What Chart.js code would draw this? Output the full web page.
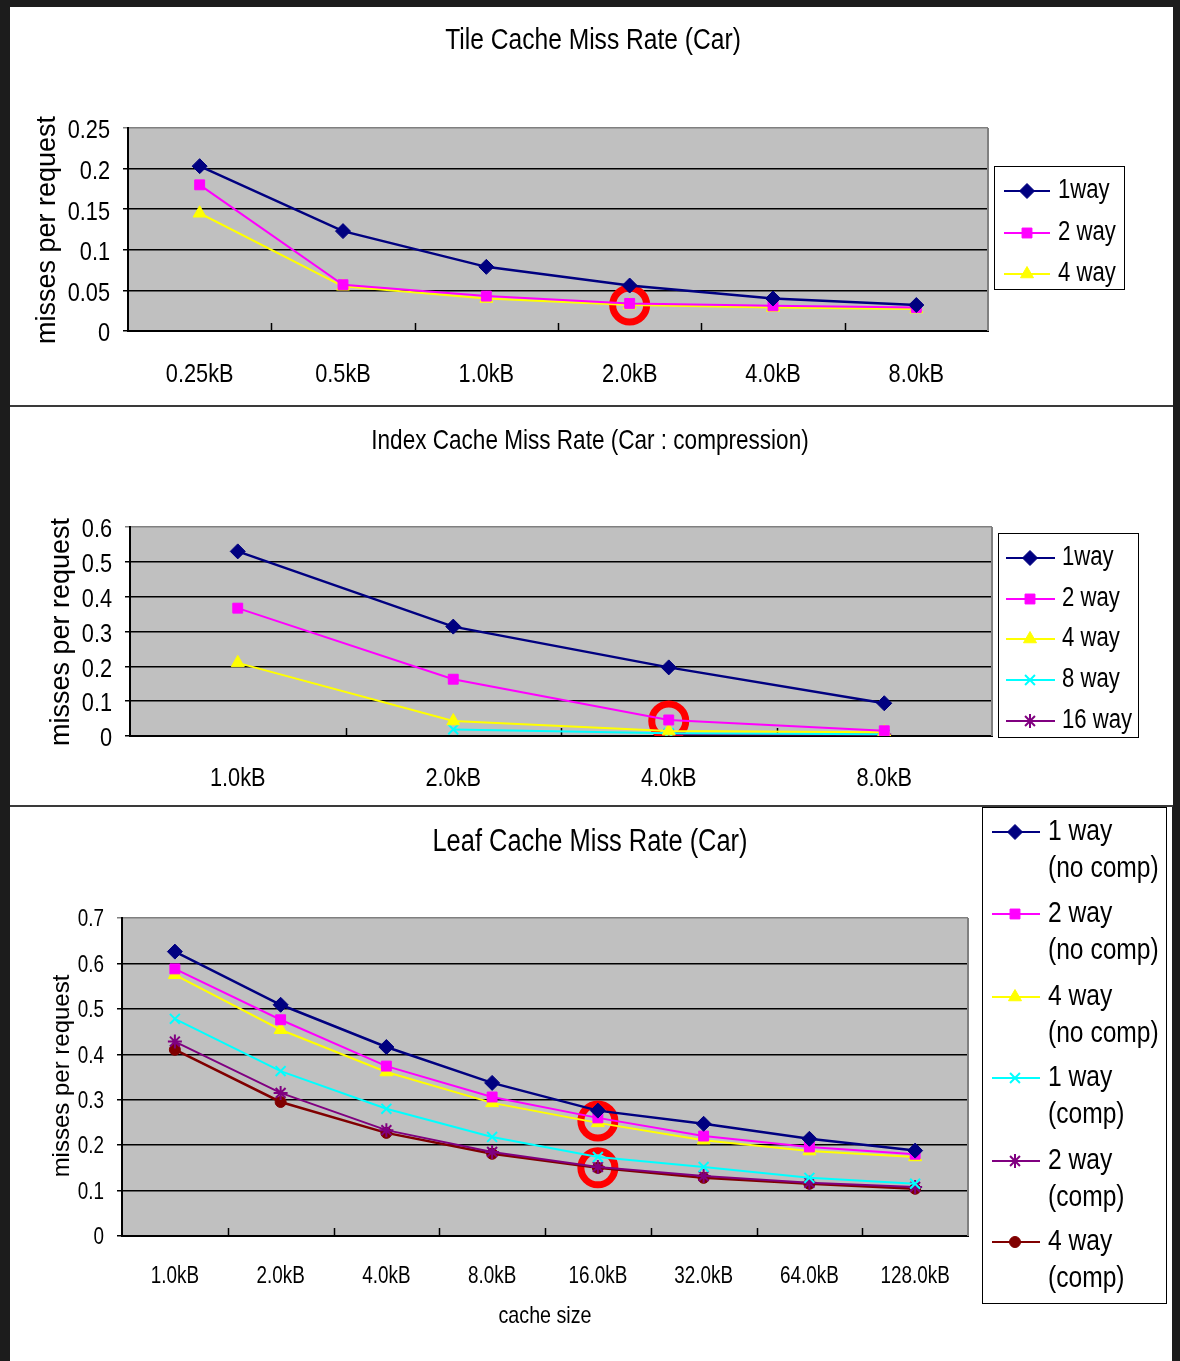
<!DOCTYPE html>
<html>
<head>
<meta charset="utf-8">
<script src="https://cdn.jsdelivr.net/npm/chart.js@4/dist/chart.umd.min.js"></script>
<style>
  html, body { margin: 0; padding: 0; background: #1c1c1c; }
  body { width: 1180px; height: 1361px; position: relative; overflow: hidden; }
  .panel { position: absolute; background: #fff; }
  .panel canvas { display: block; }
  .sep { position: absolute; left: 10px; height: 2px; background: #3a3a3a; }
</style>
</head>
<body>
<div class="panel" style="left:10px;top:7px;width:1163px;height:398px"><canvas id="tileChart" width="1163" height="398"></canvas></div>
<div class="sep" style="top:405px;width:1163px"></div>
<div class="panel" style="left:10px;top:407px;width:1163px;height:398px"><canvas id="indexChart" width="1163" height="398"></canvas></div>
<div class="sep" style="top:805px;width:1163px"></div>
<div class="panel" style="left:10px;top:807px;width:1162px;height:554px"><canvas id="leafChart" width="1162" height="554"></canvas></div>

<script>
const SANS = "'Liberation Sans', Arial, sans-serif";
const SQUEEZE = 0.82; // no narrow Arial here, so squeeze the regular one

// Tile cache
const tileSizes = ["0.25kB", "0.5kB", "1.0kB", "2.0kB", "4.0kB", "8.0kB"];
const tileOneWay = [0.203, 0.123, 0.079, 0.056, 0.040, 0.032];
const tileTwoWay = [0.180, 0.057, 0.043, 0.034, 0.031, 0.029];
const tileFourWay = [0.145, 0.055, 0.040, 0.032, 0.029, 0.027];
const tileMarked = [null, null, null, 0.032, null, null];
const tileYTicks = [0, 0.05, 0.1, 0.15, 0.2, 0.25];

// Index cache
const indexSizes = ["1.0kB", "2.0kB", "4.0kB", "8.0kB"];
const indexOneWay = [0.530, 0.314, 0.197, 0.094];
const indexTwoWay = [0.367, 0.163, 0.046, 0.015];
const indexFourWay = [0.210, 0.043, 0.014, 0.011];
const indexEightWay = [null, 0.019, 0.008, 0.005];
const indexSixteenWay = [null, null, 0.005, 0.004];
const indexMarked = [null, null, 0.043, null];
const indexYTicks = [0, 0.1, 0.2, 0.3, 0.4, 0.5, 0.6];

// Leaf cache
const leafSizes = ["1.0kB", "2.0kB", "4.0kB", "8.0kB", "16.0kB", "32.0kB", "64.0kB", "128.0kB"];
const leafOneWay = [0.626, 0.509, 0.416, 0.337, 0.276, 0.247, 0.214, 0.188];
const leafTwoWay = [0.588, 0.476, 0.374, 0.306, 0.260, 0.220, 0.196, 0.180];
const leafFourWay = [0.575, 0.454, 0.361, 0.293, 0.249, 0.211, 0.187, 0.174];
const leafOneWayComp = [0.478, 0.363, 0.280, 0.218, 0.174, 0.152, 0.128, 0.115];
const leafTwoWayComp = [0.428, 0.315, 0.233, 0.185, 0.152, 0.132, 0.117, 0.108];
const leafFourWayComp = [0.410, 0.295, 0.227, 0.181, 0.150, 0.128, 0.115, 0.104];
const leafMarkedHigh = [null, null, null, null, 0.253, null, null, null];
const leafMarkedLow = [null, null, null, null, 0.150, null, null, null];
const leafYTicks = [0, 0.1, 0.2, 0.3, 0.4, 0.5, 0.6, 0.7];

const NAVY = { color: "#000080", point: "rectRot", radius: 7.5, width: 2.5, pw: 1 };
const PINK = { color: "#ff00ff", point: "rect", radius: 7, width: 2, pw: 1 };
const YELLOW = { color: "#ffff00", point: "triangle", radius: 7.5, width: 2, pw: 1 };
const CYAN = { color: "#00ffff", point: "crossRot", radius: 7, width: 2, pw: 2 };
const PURPLE = { color: "#800080", point: "star", radius: 7, width: 2, pw: 2 };
const MAROON = { color: "#800000", point: "circle", radius: 5.5, width: 2.5, pw: 1 };

function series(label, data, s) {
  return {
    label: label,
    data: data,
    borderColor: s.color,
    backgroundColor: s.color,
    borderWidth: s.width,
    pointStyle: s.point,
    pointRadius: s.radius,
    pointBorderWidth: s.pw,
    pointBorderColor: s.color,
    pointBackgroundColor: s.color,
    tension: 0
  };
}

// red ring drawn by hand on the original slide
function ring(data) {
  return {
    label: "",
    data: data,
    hideInLegend: true,
    showLine: false,
    pointStyle: "circle",
    pointRadius: 17,
    pointBorderWidth: 7,
    pointBorderColor: "#ff0000",
    pointBackgroundColor: "rgba(0,0,0,0)"
  };
}

function narrowText(ctx, text, x, y, size, align) {
  ctx.save();
  ctx.translate(x, y);
  ctx.scale(SQUEEZE, 1);
  ctx.font = size + "px " + SANS;
  ctx.textAlign = align;
  ctx.textBaseline = "middle";
  ctx.fillText(text, 0, 0);
  ctx.restore();
}

const excelLook = {
  id: "excelLook",
  beforeDraw(chart) {
    const { ctx, chartArea: a } = chart;
    ctx.save();
    ctx.fillStyle = "#fff";
    ctx.fillRect(0, 0, chart.width, chart.height);
    ctx.fillStyle = "#c0c0c0";
    ctx.fillRect(a.left, a.top, a.width, a.height);
    ctx.restore();
  },
  beforeDatasetsDraw(chart) {
    const { ctx, chartArea: a } = chart;
    const n = chart.data.labels.length;
    ctx.save();
    ctx.strokeStyle = "#808080";
    ctx.lineWidth = 2;
    ctx.beginPath();
    ctx.moveTo(a.right, a.top);
    ctx.lineTo(a.right, a.bottom);
    ctx.stroke();
    ctx.strokeStyle = "#000";
    ctx.lineWidth = 1.5;
    for (let i = 1; i < n; i++) {
      const x = Math.round(a.left + i * a.width / n) + 0.5;
      ctx.beginPath();
      ctx.moveTo(x, a.bottom);
      ctx.lineTo(x, a.bottom - 8);
      ctx.stroke();
    }
    ctx.restore();
  },
  afterDraw(chart, args, o) {
    const ctx = chart.ctx;
    const a = chart.chartArea;
    const xs = chart.scales.x;
    const ys = chart.scales.y;
    ctx.save();
    ctx.fillStyle = "#000";

    // tick labels
    xs.ticks.forEach((t, i) => {
      narrowText(ctx, chart.data.labels[t.value], xs.getPixelForTick(i), a.bottom + o.xLabelGap, o.tickSize, "center");
    });
    ys.ticks.forEach((t, i) => {
      narrowText(ctx, String(t.value), a.left - o.yLabelGap, ys.getPixelForTick(i) + o.yLabelShift, o.tickSize, "right");
    });

    narrowText(ctx, o.title.text, o.title.x, o.title.y, o.title.size, "center");
    if (o.xTitle) {
      narrowText(ctx, o.xTitle.text, o.xTitle.x, o.xTitle.y, o.xTitle.size, "center");
    }

    ctx.save();
    ctx.translate(o.yTitle.x, o.yTitle.y);
    ctx.rotate(-Math.PI / 2);
    ctx.font = o.yTitle.size + "px " + SANS;
    ctx.textAlign = "center";
    ctx.textBaseline = "middle";
    ctx.fillText(o.yTitle.text, 0, 0);
    ctx.restore();

    // legend box
    const lg = o.legend;
    ctx.strokeStyle = "#000";
    ctx.lineWidth = 1;
    ctx.strokeRect(lg.box[0], lg.box[1], lg.box[2], lg.box[3]);
    const items = chart.data.datasets.filter(d => !d.hideInLegend);
    items.forEach((d, i) => {
      const y = lg.rows[i];
      ctx.strokeStyle = d.borderColor;
      ctx.lineWidth = 2;
      ctx.beginPath();
      ctx.moveTo(lg.lineX[0], y);
      ctx.lineTo(lg.lineX[1], y);
      ctx.stroke();
      ctx.fillStyle = d.pointBackgroundColor;
      ctx.strokeStyle = d.pointBorderColor;
      ctx.lineWidth = d.pointBorderWidth;
      Chart.helpers.drawPoint(ctx, {
        pointStyle: d.pointStyle,
        radius: d.pointRadius,
        borderWidth: d.pointBorderWidth,
        rotation: 0
      }, lg.markX, y);
      ctx.fillStyle = "#000";
      d.label.split("\n").forEach((line, k) => {
        narrowText(ctx, line, lg.textX, y + k * lg.lineGap, lg.size, "left");
      });
    });
    ctx.restore();
  }
};

function makeChart(id, labels, datasets, yTicks, look) {
  const yMax = yTicks[yTicks.length - 1];
  return new Chart(document.getElementById(id), {
    type: "line",
    data: { labels: labels, datasets: datasets },
    options: {
      responsive: false,
      animation: false,
      events: [],
      layout: { padding: { left: 0, right: look.padRight, top: look.padTop, bottom: 0 } },
      plugins: {
        legend: { display: false },
        title: { display: false },
        tooltip: { enabled: false },
        excelLook: look
      },
      scales: {
        x: {
          offset: true,
          grid: { display: false, offset: true },
          border: { color: "#000", width: 2 },
          ticks: { display: false, autoSkip: false },
          afterFit: s => { s.height = look.xHeight; }
        },
        y: {
          min: yTicks[0],
          max: yMax,
          afterBuildTicks: s => { s.ticks = yTicks.map(v => ({ value: v })); },
          grid: {
            color: c => (c.tick && c.tick.value === yMax ? "#808080" : "#000"),
            lineWidth: 1.5,
            tickLength: 5
          },
          border: { color: "#000", width: 2 },
          ticks: { display: false },
          afterFit: s => { s.width = look.yWidth; }
        }
      }
    },
    plugins: [excelLook]
  });
}

makeChart("tileChart", tileSizes, [
  series("1way", tileOneWay, NAVY),
  series("2 way", tileTwoWay, PINK),
  series("4 way", tileFourWay, YELLOW),
  ring(tileMarked)
], tileYTicks, {
  padRight: 185, padTop: 121, xHeight: 74, yWidth: 118,
  tickSize: 26.5, xLabelGap: 44, yLabelGap: 18, yLabelShift: 3,
  title: { text: "Tile Cache Miss Rate (Car)", x: 583, y: 34, size: 30 },
  yTitle: { text: "misses per request", x: 38, y: 223, size: 27 },
  legend: {
    box: [984.5, 159.5, 130, 123], lineX: [994, 1040], markX: 1017, textX: 1048,
    rows: [184, 226, 267], lineGap: 0, size: 27
  }
});

makeChart("indexChart", indexSizes, [
  series("1way", indexOneWay, NAVY),
  series("2 way", indexTwoWay, PINK),
  series("4 way", indexFourWay, YELLOW),
  series("8 way", indexEightWay, CYAN),
  series("16 way", indexSixteenWay, PURPLE),
  ring(indexMarked)
], indexYTicks, {
  padRight: 181, padTop: 120, xHeight: 69, yWidth: 120,
  tickSize: 26.5, xLabelGap: 43, yLabelGap: 18, yLabelShift: 3,
  title: { text: "Index Cache Miss Rate (Car : compression)", x: 580, y: 34, size: 27.5 },
  yTitle: { text: "misses per request", x: 52, y: 225, size: 27 },
  legend: {
    box: [988.5, 126.5, 140, 204], lineX: [996, 1045], markX: 1020, textX: 1052,
    rows: [151, 192, 232, 273, 314], lineGap: 0, size: 27
  }
});

makeChart("leafChart", leafSizes, [
  series("1 way\n(no comp)", leafOneWay, NAVY),
  series("2 way\n(no comp)", leafTwoWay, PINK),
  series("4 way\n(no comp)", leafFourWay, YELLOW),
  series("1 way\n(comp)", leafOneWayComp, CYAN),
  series("2 way\n(comp)", leafTwoWayComp, PURPLE),
  series("4 way\n(comp)", leafFourWayComp, MAROON),
  ring(leafMarkedHigh),
  ring(leafMarkedLow)
], leafYTicks, {
  padRight: 204, padTop: 111, xHeight: 125, yWidth: 112,
  tickSize: 23, xLabelGap: 41, yLabelGap: 18, yLabelShift: 2,
  title: { text: "Leaf Cache Miss Rate (Car)", x: 580, y: 35, size: 31 },
  xTitle: { text: "cache size", x: 535, y: 509, size: 24 },
  yTitle: { text: "misses per request", x: 52, y: 269, size: 24 },
  legend: {
    box: [972.5, 0.5, 184, 496], lineX: [982, 1030], markX: 1005, textX: 1038,
    rows: [25, 107, 190, 271, 354, 435], lineGap: 37, size: 30
  }
});
</script>
</body>
</html>
